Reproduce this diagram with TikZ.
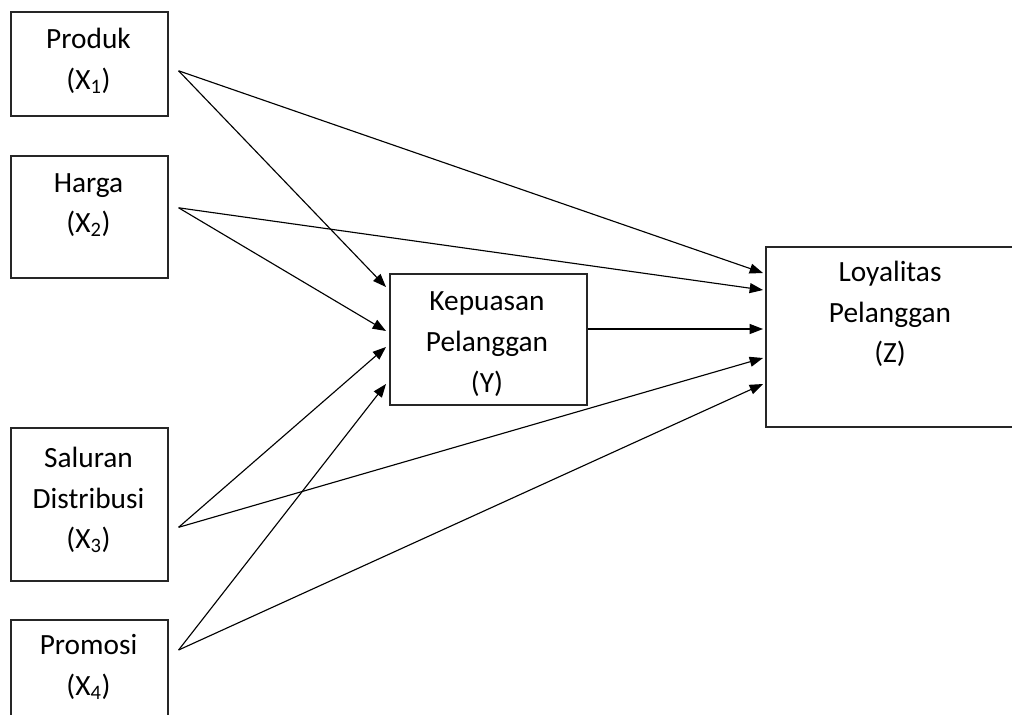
\documentclass[tikz,border=0pt]{standalone}
\usepackage{fontspec}
\setmainfont{Carlito}
\usetikzlibrary{arrows.meta,calc}
\begin{document}
\begin{tikzpicture}[x=0.75pt,y=-0.75pt,
  box/.style={draw=black!85,line width=1.2pt,inner sep=0pt,anchor=north west},
  txt/.style={align=center,inner sep=0pt,font=\fontsize{22}{30.5}\selectfont},
  arr/.style={-{Triangle[length=10pt,width=7.5pt]},line width=0.85pt}]
\useasboundingbox (0,0) rectangle (1012,714);
\clip (0,0) rectangle (1012,714);
% boxes
\node[box,minimum width=117.75pt,minimum height=78pt] (x1) at (10,11) {};
\node[box,minimum width=117.75pt,minimum height=91.5pt] (x2) at (10,155) {};
\node[box,minimum width=117.75pt,minimum height=114.75pt] (x3) at (10,427) {};
\node[box,minimum width=117.75pt,minimum height=90pt] (x4) at (10,619) {};
\node[box,minimum width=147.75pt,minimum height=98.25pt] (y) at (389,273) {};
\node[box,minimum width=186pt,minimum height=135pt] (z) at (765,246) {};
% texts
\node[txt] (x1t) at (88.5,61) {Produk\\(X\textsubscript{1})};
\node[txt] (x2t) at (88.5,205) {Harga\\(X\textsubscript{2})};
\node[txt] (x3t) at (88.5,500) {Saluran\\Distribusi\\(X\textsubscript{3})};
\node[txt] (x4t) at (88.5,667) {Promosi\\(X\textsubscript{4})};
\node[txt] (yt) at (487,344) {Kepuasan\\Pelanggan\\(Y)};
\node[txt] (zt) at (890,314) {Loyalitas\\Pelanggan\\(Z)};
% start points
\coordinate (s1) at ($(x1.east)+(10,7)$);
\coordinate (s2) at ($(x2.east)+(10,-9)$);
\coordinate (s3) at ($(x3.east)+(10,23)$);
\coordinate (s4) at ($(x4.north east)+(10,31)$);
% end points on Y
\coordinate (y1) at ($(y.north west)+(-3,14)$);
\coordinate (y2) at ($(y.north west)+(-3,58)$);
\coordinate (y3) at ($(y.north west)+(-3,74)$);
\coordinate (y4) at ($(y.north west)+(-3,111)$);
% end points on Z
\coordinate (z1) at ($(z.north west)+(-2,27)$);
\coordinate (z2) at ($(z.north west)+(-2,44)$);
\coordinate (z3) at ($(z.north west)+(-2,83)$);
\coordinate (z4) at ($(z.north west)+(-2,112)$);
\coordinate (z5) at ($(z.north west)+(-2,138)$);
% connectors
\draw[arr] (s1) -- (z1);
\draw[arr] (s1) -- (y1);
\draw[arr] (s2) -- (z2);
\draw[arr] (s2) -- (y2);
\draw[arr] (y.east |- z3) -- (z3);
\draw[arr] (s3) -- (y3);
\draw[arr] (s3) -- (z4);
\draw[arr] (s4) -- (y4);
\draw[arr] (s4) -- (z5);
\end{tikzpicture}
\end{document}
